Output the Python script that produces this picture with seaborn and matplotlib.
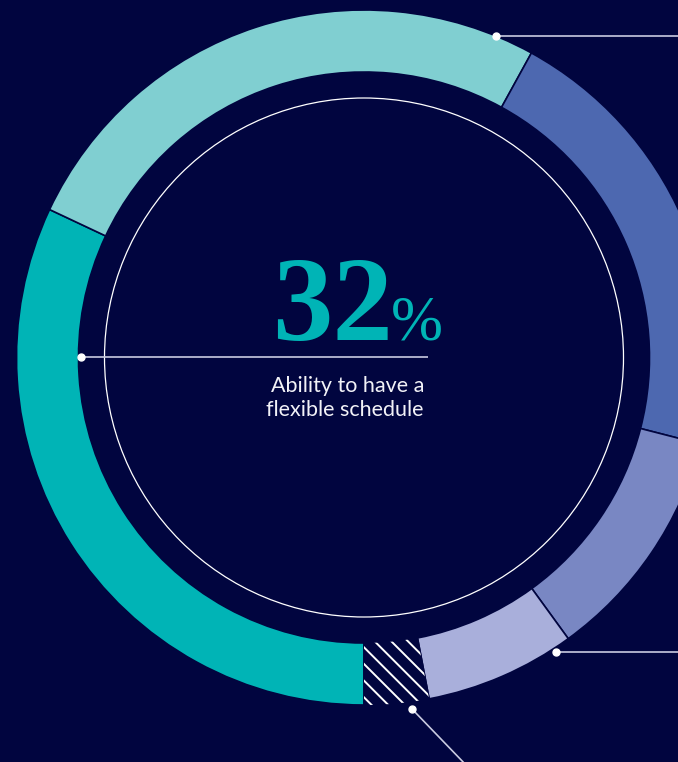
import matplotlib
matplotlib.use("Agg")
import matplotlib.pyplot as plt
import matplotlib.patches as mpatches
import seaborn as sns

# Share of respondents per reason (percent), clockwise from the bottom
categories = ["Flexible schedule", "Reason B", "Reason C", "Reason D", "Reason E", "No answer"]
shares = [32, 26, 21, 11, 7, 3]
headline_lines = ["Ability to have a", "flexible schedule"]

BG = "#01053F"
palette = sns.color_palette(["#00B4B6", "#80CFD1", "#4D68B0", "#7987C3", "#A9AFDB", BG])

sns.set_theme(style="white")
plt.rcParams["hatch.linewidth"] = 1.4

W, H = 678, 762
fig = plt.figure(figsize=(W / 100, H / 100), dpi=100, facecolor=BG)
ax = fig.add_axes([0, 0, 1, 1])
ax.set_facecolor(BG)

cx, cy = 364, H - 357.5
r_out, ring_w = 347.5, 62

wedges, _ = ax.pie(
    shares,
    colors=palette,
    startangle=-90,
    counterclock=False,
    center=(cx, cy),
    radius=r_out,
    wedgeprops=dict(width=ring_w, edgecolor=BG, linewidth=1.2),
)

# hatched overlay for the last segment
last = wedges[-1]
hatch = mpatches.Wedge((cx, cy), r_out, last.theta1, last.theta2, width=ring_w,
                       fill=False, hatch="\\\\", edgecolor="white", linewidth=0)
ax.add_patch(hatch)

# thin inner guide circle
ax.add_patch(mpatches.Circle((cx, cy), 259.5, fill=False, edgecolor="white", linewidth=0.9))

# leader lines
line_kw = dict(color="#C9CBE0", linewidth=1.2, solid_capstyle="butt", zorder=4)
dot_kw = dict(marker="o", color="white", markersize=5, zorder=5, linestyle="none")
ax.plot([80.7, 428], [H - 357.3, H - 357.3], **line_kw)
ax.plot([80.7], [H - 357.3], **dot_kw)
ax.plot([496, W + 5], [H - 36, H - 36], **line_kw)
ax.plot([496], [H - 36], **dot_kw)
ax.plot([556, W + 5], [H - 652, H - 652], **line_kw)
ax.plot([556], [H - 652], **dot_kw)
ax.plot([412.3, 466], [H - 709.3, H - 765], **line_kw)
ax.plot([412.3], [H - 709.3], **dot_kw)

# headline number
ax.text(393, H - 340, f"{shares[0]}", color=palette[0], fontsize=87,
        family="Liberation Serif", fontweight="bold", ha="right", va="baseline")
ax.text(391, H - 340, "%", color=palette[0], fontsize=45,
        family="Liberation Serif", ha="left", va="baseline")
for i, line in enumerate(headline_lines):
    ax.text(424, H - 391.5 - 25 * i, line, color="#F2F2F7", fontsize=15.5,
            family="Lato", ha="right", va="baseline")

ax.set_xlim(0, W)
ax.set_ylim(0, H)
ax.set_aspect("equal")
ax.axis("off")

fig.savefig("out.png", dpi=100, facecolor=BG)
